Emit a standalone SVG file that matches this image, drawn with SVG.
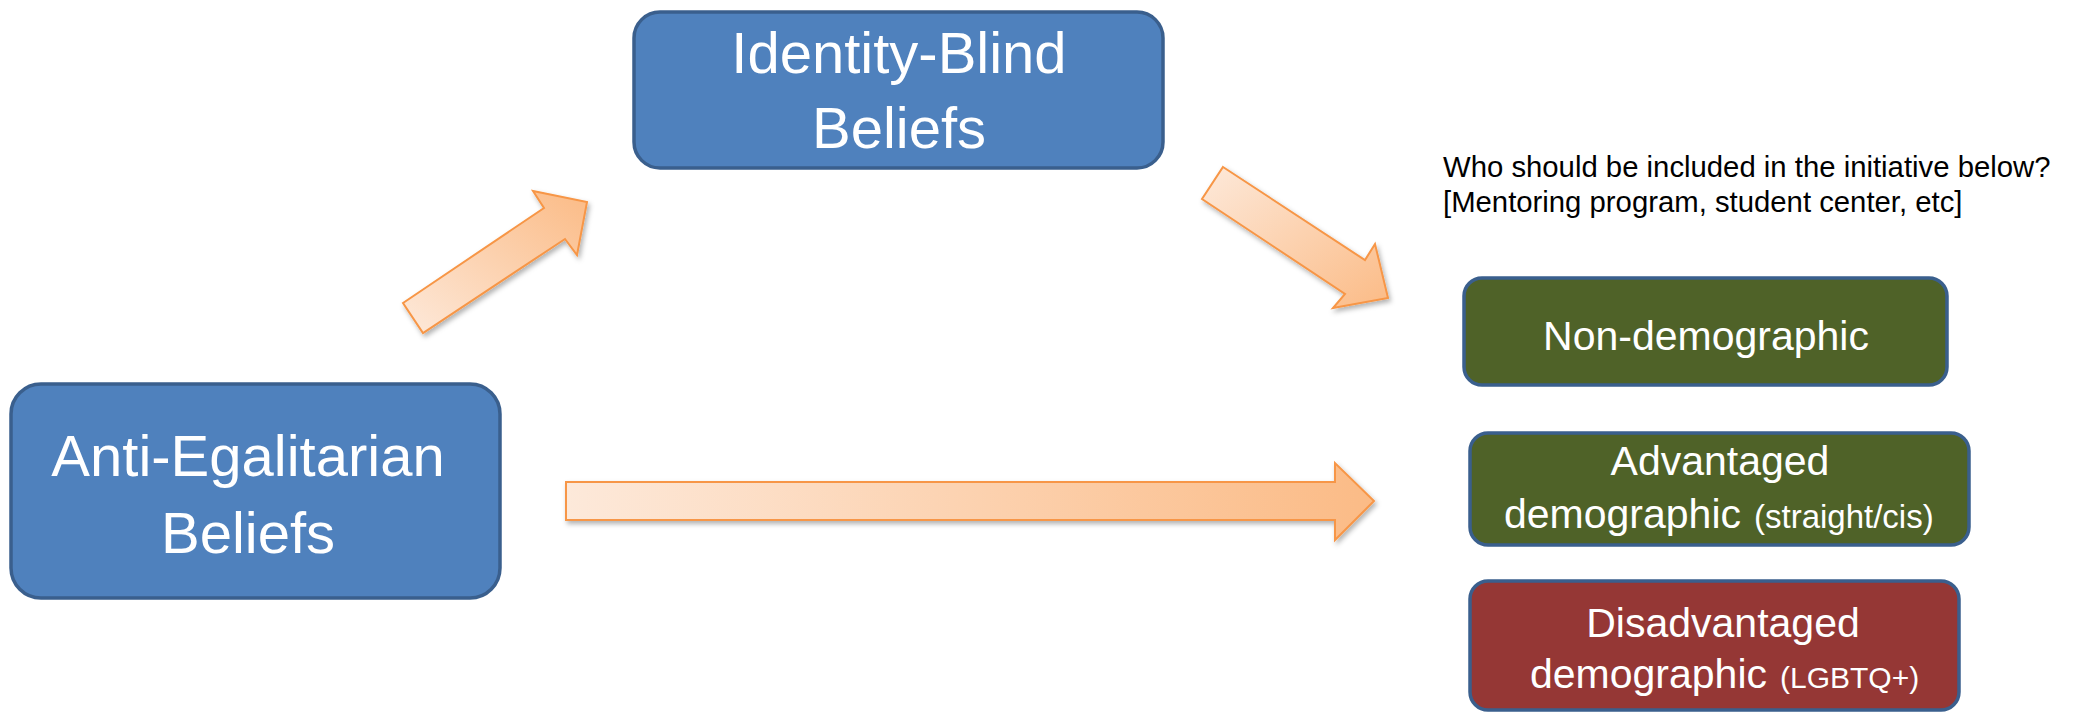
<svg xmlns="http://www.w3.org/2000/svg" width="2080" height="712" viewBox="0 0 2080 712">
  <style>
    .box { stroke: #3a5f8d; stroke-width: 3.5; }
    .blue { fill: #4f81bd; }
    .green { fill: #4f6228; }
    .red { fill: #953735; }
    .title { font-family: "Liberation Sans", Arial, sans-serif; fill: #ffffff; font-size: 58px; text-anchor: middle; }
    .lbl { font-family: "Liberation Sans", Arial, sans-serif; fill: #ffffff; font-size: 41px; }
    .small { font-size: 33px; }
    .small2 { font-size: 30px; }
    .q { font-family: "Liberation Sans", Arial, sans-serif; fill: #000000; font-size: 29.3px; }
    .arrow { stroke: #f79646; stroke-width: 2; stroke-linejoin: miter; filter: url(#shadow); }
  </style>
  <defs>
    <filter id="shadow" x="-10%" y="-20%" width="130%" height="160%">
      <feDropShadow dx="2" dy="3" stdDeviation="2.5" flood-color="#000000" flood-opacity="0.3"/>
    </filter>
    <linearGradient id="gH" x1="0" y1="0" x2="1" y2="0">
      <stop offset="0" stop-color="#fde9da"/>
      <stop offset="1" stop-color="#fbbb86"/>
    </linearGradient>
    <linearGradient id="gUp" x1="0" y1="1" x2="1" y2="0">
      <stop offset="0" stop-color="#fde9da"/>
      <stop offset="1" stop-color="#fbbb86"/>
    </linearGradient>
    <linearGradient id="gDown" x1="0" y1="0" x2="1" y2="1">
      <stop offset="0" stop-color="#fde9da"/>
      <stop offset="1" stop-color="#fbbb86"/>
    </linearGradient>
  </defs>

  <g id="connectors">
    <polygon class="arrow" fill="url(#gUp)" points="403,303 544,208 533,191 587,202 577,255 565,239 423,333"/>
    <polygon class="arrow" fill="url(#gDown)" points="1223,167 1365,260 1375,244 1388,298 1333,308 1345,294 1202,199"/>
    <polygon class="arrow" fill="url(#gH)" points="566,482 1335,482 1335,463 1374,501 1335,540 1335,520 566,520"/>
  </g>

  <g id="anti-egalitarian">
    <rect class="box blue" x="11" y="384" width="489" height="214" rx="30" ry="30"/>
    <text class="title" x="248" y="476">Anti-Egalitarian</text>
    <text class="title" x="248" y="553">Beliefs</text>
  </g>

  <g id="identity-blind">
    <rect class="box blue" x="634" y="12" width="529" height="156" rx="26" ry="26"/>
    <text class="title" x="899" y="73">Identity-Blind</text>
    <text class="title" x="899" y="148">Beliefs</text>
  </g>

  <g id="question">
    <text class="q" x="1443" y="177">Who should be included in the initiative below?</text>
    <text class="q" x="1443" y="212">[Mentoring program, student center, etc]</text>
  </g>

  <g id="non-demographic">
    <rect class="box green" x="1464" y="278" width="483" height="107" rx="18" ry="18"/>
    <text class="lbl" x="1706" y="350" text-anchor="middle">Non-demographic</text>
  </g>

  <g id="advantaged">
    <rect class="box green" x="1470" y="433" width="499" height="112" rx="18" ry="18"/>
    <text class="lbl" x="1720" y="475" text-anchor="middle">Advantaged</text>
    <text class="lbl" x="1504" y="528">demographic <tspan class="small" x="1754">(straight/cis)</tspan></text>
  </g>

  <g id="disadvantaged">
    <rect class="box red" x="1470" y="581" width="489" height="129" rx="18" ry="18"/>
    <text class="lbl" x="1723" y="637" text-anchor="middle">Disadvantaged</text>
    <text class="lbl" x="1530" y="688">demographic <tspan class="small2" x="1780">(LGBTQ+)</tspan></text>
  </g>
</svg>
